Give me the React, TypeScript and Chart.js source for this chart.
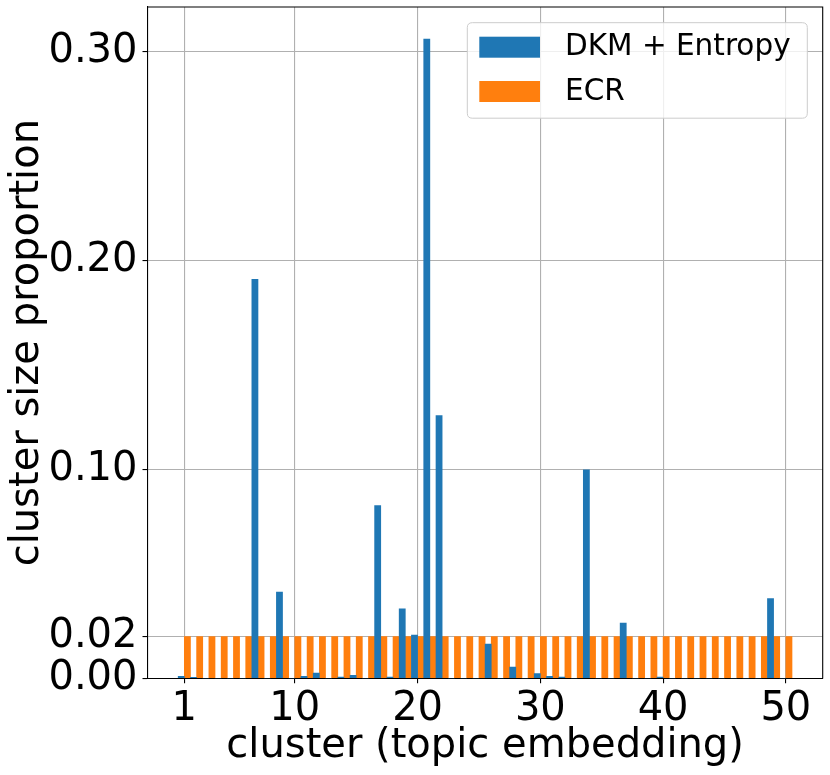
import React, { useEffect, useRef } from "react";
import { Chart, registerables } from "chart.js";

Chart.register(...registerables);

const clusters: number[] = Array.from({ length: 50 }, (_, i) => i + 1);

const dkmEntropy: number[] = [
  0.001, 0.0005, 0, 0, 0, 0, 0.1909, 0, 0.0412, 0,
  0.001, 0.0025, 0, 0.0006, 0.0014, 0, 0.0827, 0.0006, 0.0332, 0.0207,
  0.3059, 0.1257, 0, 0, 0, 0.0164, 0, 0.0054, 0, 0.0022,
  0.001, 0.0006, 0, 0.0997, 0, 0, 0.0264, 0, 0, 0.0006,
  0, 0, 0, 0, 0, 0, 0, 0, 0.0382, 0,
];

const ecr: number[] = [
  0.02, 0.02, 0.02, 0.02, 0.02, 0.02, 0.02, 0.02, 0.02, 0.02,
  0.02, 0.02, 0.02, 0.02, 0.02, 0.02, 0.02, 0.02, 0.02, 0.02,
  0.02, 0.02, 0.02, 0.02, 0.02, 0.02, 0.02, 0.02, 0.02, 0.02,
  0.02, 0.02, 0.02, 0.02, 0.02, 0.02, 0.02, 0.02, 0.02, 0.02,
  0.02, 0.02, 0.02, 0.02, 0.02, 0.02, 0.02, 0.02, 0.02, 0.02,
];

const xTicks: number[] = [1, 10, 20, 30, 40, 50];
const yTicks: number[] = [0.0, 0.02, 0.1, 0.2, 0.3];

const seriesLabels: string[] = ["DKM + Entropy", "ECR"];
const seriesColors: string[] = ["#1f77b4", "#ff7f0e"];

const FONT = "'DejaVu Sans', sans-serif";

const framePlugin = {
  id: "frameAndLegend",
  afterDraw(chart: any) {
    const { ctx, chartArea } = chart;
    ctx.save();
    // top and right spines
    ctx.strokeStyle = "#000";
    ctx.lineWidth = 1.1;
    ctx.beginPath();
    ctx.moveTo(chartArea.left, chartArea.top);
    ctx.lineTo(chartArea.right, chartArea.top);
    ctx.lineTo(chartArea.right, chartArea.bottom);
    ctx.stroke();

    // legend box
    const w = 340;
    const h = 95.5;
    const x0 = chartArea.right - 15.4 - w;
    const y0 = chartArea.top + 15.7;
    const r = 5;
    ctx.beginPath();
    ctx.moveTo(x0 + r, y0);
    ctx.lineTo(x0 + w - r, y0);
    ctx.quadraticCurveTo(x0 + w, y0, x0 + w, y0 + r);
    ctx.lineTo(x0 + w, y0 + h - r);
    ctx.quadraticCurveTo(x0 + w, y0 + h, x0 + w - r, y0 + h);
    ctx.lineTo(x0 + r, y0 + h);
    ctx.quadraticCurveTo(x0, y0 + h, x0, y0 + h - r);
    ctx.lineTo(x0, y0 + r);
    ctx.quadraticCurveTo(x0, y0, x0 + r, y0);
    ctx.closePath();
    ctx.fillStyle = "rgba(255,255,255,0.8)";
    ctx.fill();
    ctx.strokeStyle = "#cccccc";
    ctx.lineWidth = 1;
    ctx.stroke();

    ctx.font = `29.5px ${FONT}`;
    ctx.textBaseline = "middle";
    ctx.textAlign = "left";
    chart.data.datasets.forEach((ds: any, i: number) => {
      const sy = y0 + 14 + i * 44.3;
      ctx.fillStyle = ds.backgroundColor;
      ctx.fillRect(x0 + 12, sy, 60.7, 21);
      ctx.fillStyle = "#000";
      ctx.fillText(ds.label, x0 + 97.7, sy + 11);
    });
    ctx.restore();
  },
};

export default function App() {
  const ref = useRef<HTMLCanvasElement | null>(null);

  useEffect(() => {
    if (!ref.current) return;
    const chart = new Chart(ref.current, {
      type: "bar",
      data: {
        datasets: [
          {
            label: seriesLabels[0],
            data: clusters.map((c, i) => ({ x: c, y: dkmEntropy[i] })),
            backgroundColor: seriesColors[0],
            borderWidth: 0,
            categoryPercentage: 1,
            barPercentage: 1,
          },
          {
            label: seriesLabels[1],
            data: clusters.map((c, i) => ({ x: c, y: ecr[i] })),
            backgroundColor: seriesColors[1],
            borderWidth: 0,
            categoryPercentage: 1,
            barPercentage: 1,
          },
        ],
      },
      options: {
        animation: false,
        responsive: false,
        devicePixelRatio: 1,
        layout: { padding: { top: 7, right: 7.3, left: 0, bottom: 0 } },
        plugins: {
          legend: { display: false },
          tooltip: { enabled: false },
        },
        scales: {
          x: {
            type: "linear",
            min: -2,
            max: 53,
            offset: false,
            z: 1,
            afterFit: (s: any) => {
              s.height = 96.7;
              s.paddingLeft = 0;
              s.paddingRight = 0;
            },
            afterBuildTicks: (s: any) => {
              s.ticks = xTicks.map((v) => ({ value: v }));
            },
            ticks: {
              color: "#000",
              font: { family: FONT, size: 40 },
              padding: 2,
              maxRotation: 0,
              autoSkip: false,
              callback: (v: any) => String(v),
            },
            grid: {
              color: "#b0b0b0",
              lineWidth: 1.1,
              tickLength: 5,
              tickColor: "#000",
              offset: false,
            },
            border: { display: true, color: "#000", width: 1.1 },
            title: {
              display: true,
              text: "cluster (topic embedding)",
              color: "#000",
              font: { family: FONT, size: 40 },
              padding: { top: 0, bottom: 4 },
            },
          },
          y: {
            type: "linear",
            min: 0,
            max: 0.3212,
            z: 1,
            afterFit: (s: any) => {
              s.width = 147.5;
              s.paddingTop = 0;
              s.paddingBottom = 0;
            },
            afterBuildTicks: (s: any) => {
              s.ticks = yTicks.map((v) => ({ value: v }));
            },
            ticks: {
              color: "#000",
              font: { family: FONT, size: 40 },
              padding: 5,
              autoSkip: false,
              callback: (v: any) => Number(v).toFixed(2),
            },
            grid: {
              color: "#b0b0b0",
              lineWidth: 1.1,
              tickLength: 5,
              tickColor: "#000",
            },
            border: { display: true, color: "#000", width: 1.1 },
            title: {
              display: true,
              text: "cluster size proportion",
              color: "#000",
              font: { family: FONT, size: 40 },
              padding: { top: 4, bottom: 0 },
            },
          },
        },
      },
      plugins: [framePlugin],
    });
    return () => chart.destroy();
  }, []);

  return (
    <div style={{ position: "fixed", left: 0, top: 0, width: 830, height: 775, background: "#fff" }}>
      <canvas ref={ref} width={830} height={775} style={{ display: "block" }} />
    </div>
  );
}
